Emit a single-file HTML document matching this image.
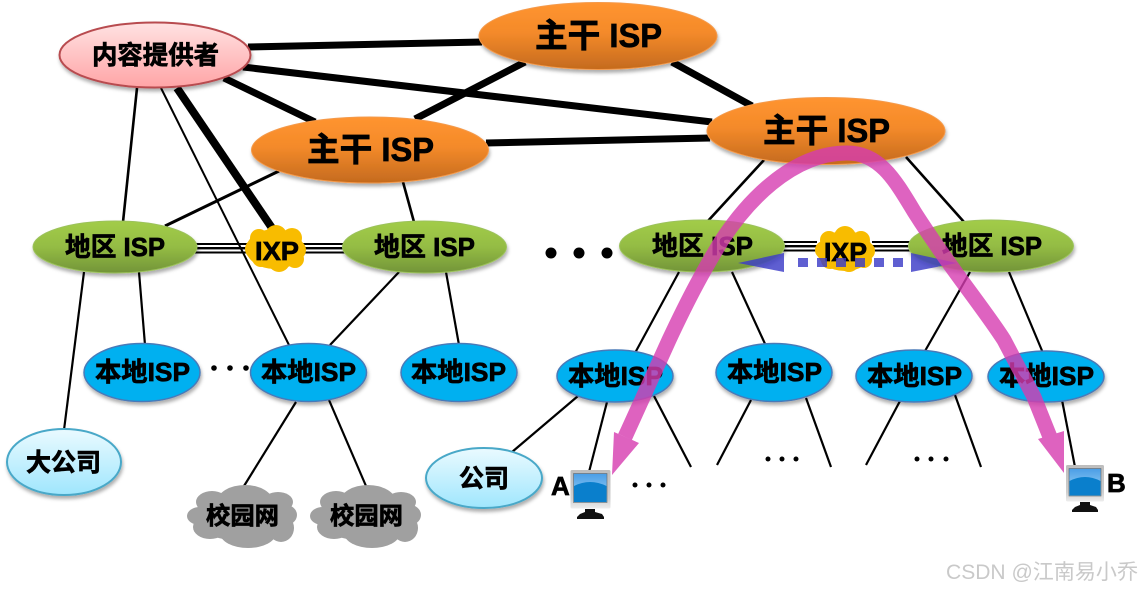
<!DOCTYPE html>
<html><head><meta charset="utf-8">
<style>
html,body{margin:0;padding:0;background:#fff;width:1142px;height:591px;overflow:hidden}
svg{display:block}
.t{font-family:"Liberation Sans","Noto Sans CJK SC",sans-serif;font-weight:700;fill:#000;stroke:#000;stroke-width:.7;text-anchor:start}
</style></head>
<body>
<svg width="1142" height="591" viewBox="0 0 1142 591" xmlns="http://www.w3.org/2000/svg">
<defs>
<linearGradient id="o" x1="0" y1="0" x2="0" y2="1"><stop offset="0" stop-color="#ff9430"/><stop offset=".45" stop-color="#f48a2a"/><stop offset="1" stop-color="#c46a1e"/></linearGradient>
<linearGradient id="g" x1="0" y1="0" x2="0" y2="1"><stop offset="0" stop-color="#a2cc48"/><stop offset=".5" stop-color="#94bc44"/><stop offset="1" stop-color="#729438"/></linearGradient>
<linearGradient id="p" x1="0" y1="0" x2="0" y2="1"><stop offset="0" stop-color="#ffe2e2"/><stop offset="1" stop-color="#ffa4a6"/></linearGradient>
<linearGradient id="c" x1="0" y1="0" x2="0" y2="1"><stop offset="0" stop-color="#eafaff"/><stop offset="1" stop-color="#9fe6fd"/></linearGradient>
<linearGradient id="s" x1="0" y1="0" x2="0" y2="1"><stop offset="0" stop-color="#4a9ee6"/><stop offset="1" stop-color="#a8daf8"/></linearGradient>
<linearGradient id="b" x1="0" y1="0" x2="0" y2="1"><stop offset="0" stop-color="#bdbdbd"/><stop offset=".75" stop-color="#cfcfcf"/><stop offset="1" stop-color="#eeeeee"/></linearGradient>
<filter id="sh" x="-10%" y="-10%" width="120%" height="130%"><feDropShadow dx="1" dy="3" stdDeviation="1.800" flood-color="#000" flood-opacity=".32"/></filter>
</defs>

<!-- thick backbone links -->
<g stroke="#000" stroke-width="7" fill="none">
<line x1="248" y1="47" x2="482" y2="42"/>
<line x1="243" y1="67" x2="712" y2="122"/>
<line x1="224" y1="78" x2="315" y2="122"/>
<line x1="415" y1="119" x2="525" y2="62"/>
<line x1="672" y1="62" x2="752" y2="106"/>
<line x1="486" y1="143" x2="710" y2="138"/>
<line x1="177" y1="88" x2="272" y2="228" stroke-width="8"/>
</g>
<!-- thin links -->
<g stroke="#000" stroke-width="2.600" fill="none">
<line x1="137" y1="88" x2="123" y2="222"/>
<line x1="161" y1="88" x2="289" y2="345" stroke-width="2"/>
<line x1="279" y1="171" x2="165" y2="226" stroke-width="3"/>
<line x1="403" y1="182" x2="414" y2="222"/>
<line x1="84" y1="272" x2="64" y2="430" stroke-width="2.200"/>
<line x1="139" y1="272" x2="145" y2="345" stroke-width="2.200"/>
<line x1="399" y1="272" x2="330" y2="345" stroke-width="2.200"/>
<line x1="446" y1="272" x2="459" y2="345" stroke-width="2.200"/>
<line x1="764" y1="160" x2="707" y2="222"/>
<line x1="906" y1="157" x2="964" y2="222"/>
<g stroke-width="2.200">
<line x1="679" y1="272" x2="635" y2="353"/>
<line x1="732" y1="272" x2="766" y2="346"/>
<line x1="970" y1="272" x2="925" y2="351"/>
<line x1="1009" y1="272" x2="1043" y2="353"/>
<line x1="578" y1="396" x2="512" y2="452"/>
<line x1="607" y1="402" x2="589" y2="472"/>
<line x1="654" y1="396" x2="691" y2="467"/>
<line x1="751" y1="400" x2="717" y2="465"/>
<line x1="806" y1="398" x2="831" y2="467"/>
<line x1="900" y1="401" x2="866" y2="465"/>
<line x1="955" y1="395" x2="981" y2="467"/>
<line x1="1062" y1="400" x2="1075" y2="467"/>
<line x1="296" y1="402" x2="244" y2="486"/>
<line x1="329" y1="400" x2="366" y2="486"/>
</g>
</g>
<!-- triple lines -->
<g fill="#000">
<rect x="195" y="243" width="52" height="2"/><rect x="195" y="247" width="52" height="2.400"/><rect x="195" y="251.500" width="52" height="2"/>
<rect x="303" y="243" width="42" height="2"/><rect x="303" y="247" width="42" height="2.400"/><rect x="303" y="251.500" width="42" height="2"/>
<rect x="783" y="241" width="34" height="2"/><rect x="783" y="245" width="34" height="2.400"/><rect x="783" y="249.500" width="34" height="2"/>
<rect x="872" y="241" width="38" height="2"/><rect x="872" y="245" width="38" height="2.400"/><rect x="872" y="249.500" width="38" height="2"/>
</g>

<!-- ellipses -->
<g filter="url(#sh)">
<ellipse cx="155" cy="55" rx="95.500" ry="32.500" fill="url(#p)" stroke="#b84c50" stroke-width="2"/>
<ellipse cx="598" cy="36" rx="119" ry="33.500" fill="url(#o)" stroke="#f49a4c" stroke-width="1"/>
<ellipse cx="826" cy="131" rx="119" ry="33.500" fill="url(#o)" stroke="#f49a4c" stroke-width="1"/>
<ellipse cx="370" cy="150" rx="118.500" ry="33" fill="url(#o)" stroke="#f49a4c" stroke-width="1"/>
<ellipse cx="115" cy="247" rx="82" ry="26" fill="url(#g)" stroke="#9cc25c" stroke-width="1"/>
<ellipse cx="424.500" cy="247" rx="82" ry="26" fill="url(#g)" stroke="#9cc25c" stroke-width="1"/>
<ellipse cx="702" cy="246" rx="82.500" ry="26" fill="url(#g)" stroke="#9cc25c" stroke-width="1"/>
<ellipse cx="991" cy="246" rx="82.500" ry="26" fill="url(#g)" stroke="#9cc25c" stroke-width="1"/>
<g fill="#00b0f0" stroke="#4a7ab8" stroke-width="1.500">
<ellipse cx="142" cy="372.500" rx="58" ry="29"/>
<ellipse cx="308.500" cy="372.500" rx="58" ry="29"/>
<ellipse cx="459" cy="372.500" rx="58" ry="29"/>
<ellipse cx="615" cy="376" rx="58" ry="26"/>
<ellipse cx="774" cy="372.500" rx="58" ry="29"/>
<ellipse cx="914" cy="376" rx="58" ry="26"/>
<ellipse cx="1046" cy="376.500" rx="58" ry="25.500"/>
</g>
<ellipse cx="64" cy="462" rx="57" ry="33" fill="url(#c)" stroke="#48a8c8" stroke-width="2"/>
<ellipse cx="484" cy="478" rx="58" ry="30" fill="url(#c)" stroke="#48a8c8" stroke-width="2"/>
</g>

<!-- IXP clouds -->
<g fill="#f8bc00">
<ellipse cx="275" cy="249" rx="29" ry="20"/><circle cx="259" cy="238" r="9"/><circle cx="276" cy="236" r="11"/><circle cx="292" cy="238" r="10"/><circle cx="255" cy="249" r="10"/><circle cx="296" cy="250" r="10"/><circle cx="261" cy="258" r="9"/><circle cx="279" cy="261" r="11"/><circle cx="295" cy="259" r="9"/>
<ellipse cx="845" cy="251" rx="28" ry="20"/><circle cx="829" cy="240" r="9"/><circle cx="845" cy="237" r="11"/><circle cx="861" cy="240" r="9"/><circle cx="824" cy="250" r="9"/><circle cx="866" cy="251" r="9"/><circle cx="830" cy="260" r="9"/><circle cx="849" cy="262" r="10"/><circle cx="864" cy="260" r="8"/>
</g>
<!-- grey clouds -->
<g fill="#a0a0a0">
<ellipse cx="242" cy="517" rx="48" ry="24"/><ellipse cx="245" cy="502" rx="28" ry="17"/><ellipse cx="212" cy="502" rx="16" ry="11"/><ellipse cx="278" cy="502" rx="15" ry="10"/><ellipse cx="200" cy="516" rx="13" ry="9"/><ellipse cx="283" cy="515" rx="14" ry="11"/><ellipse cx="210" cy="527" rx="17" ry="12"/><ellipse cx="248" cy="533" rx="28" ry="15"/><ellipse cx="281" cy="528" rx="13" ry="14"/>
<ellipse cx="366" cy="517" rx="48" ry="24"/><ellipse cx="368" cy="502" rx="28" ry="17"/><ellipse cx="336" cy="502" rx="16" ry="11"/><ellipse cx="401" cy="502" rx="15" ry="10"/><ellipse cx="323" cy="516" rx="13" ry="9"/><ellipse cx="407" cy="515" rx="14" ry="11"/><ellipse cx="334" cy="527" rx="17" ry="12"/><ellipse cx="372" cy="533" rx="28" ry="15"/><ellipse cx="405" cy="528" rx="13" ry="14"/>
</g>

<!-- dots -->
<g fill="#000">
<circle cx="551" cy="253" r="5.500"/><circle cx="579" cy="253" r="5.500"/><circle cx="607" cy="253" r="5.500"/>
<circle cx="214" cy="368" r="2.800"/><circle cx="230" cy="368" r="2.800"/><circle cx="246" cy="368" r="2.800"/>
<circle cx="635" cy="485" r="2.500"/><circle cx="649" cy="485" r="2.500"/><circle cx="663" cy="485" r="2.500"/>
<circle cx="768" cy="459" r="2.500"/><circle cx="782" cy="459" r="2.500"/><circle cx="796" cy="459" r="2.500"/>
<circle cx="917" cy="459" r="2.500"/><circle cx="931" cy="459" r="2.500"/><circle cx="946" cy="459" r="2.500"/>
</g>

<!-- computers -->
<g>
<rect x="570.500" y="470" width="40" height="38.500" rx="1.500" fill="url(#b)"/>
<rect x="573.500" y="473.500" width="33.500" height="29" fill="url(#s)" stroke="#666" stroke-width=".6"/>
<path d="M574 486Q590 478 606.500 486V502H574Z" fill="#0a7fcc"/>
<path d="M585 509h10v3l7 2 2 3v2h-27v-2l3-3 5-2Z" fill="#111"/>
</g>
<g>
<rect x="1066" y="465" width="38" height="36.500" rx="1.500" fill="url(#b)"/>
<rect x="1069" y="468.500" width="32" height="27.500" fill="url(#s)" stroke="#666" stroke-width=".6"/>
<path d="M1069.500 481Q1085 473 1100.500 481V495.500H1069.500Z" fill="#0a7fcc"/>
<path d="M1080 502h10v3l6 2 2 3v2h-26v-2l3-3 5-2Z" fill="#111"/>
</g>

<!-- labels -->
<g class="t">
<text x="92" y="64" font-size="25.500" textLength="127" lengthAdjust="spacingAndGlyphs">内容提供者</text>
<text x="535" y="47" font-size="33" textLength="127" lengthAdjust="spacingAndGlyphs">主干 ISP</text>
<text x="763" y="142" font-size="33" textLength="127" lengthAdjust="spacingAndGlyphs">主干 ISP</text>
<text x="307" y="161" font-size="33" textLength="127" lengthAdjust="spacingAndGlyphs">主干 ISP</text>
<text x="65" y="256" font-size="26" textLength="100" lengthAdjust="spacingAndGlyphs">地区 ISP</text>
<text x="374" y="256" font-size="26" textLength="101" lengthAdjust="spacingAndGlyphs">地区 ISP</text>
<text x="652" y="255" font-size="26" textLength="101" lengthAdjust="spacingAndGlyphs">地区 ISP</text>
<text x="942" y="255" font-size="26" textLength="100" lengthAdjust="spacingAndGlyphs">地区 ISP</text>
<text x="255" y="260" font-size="26" textLength="44" lengthAdjust="spacingAndGlyphs">IXP</text>
<text x="824" y="261" font-size="26" textLength="43" lengthAdjust="spacingAndGlyphs">IXP</text>
<text x="95" y="381" font-size="26" textLength="95" lengthAdjust="spacingAndGlyphs">本地ISP</text>
<text x="261" y="381" font-size="26" textLength="95" lengthAdjust="spacingAndGlyphs">本地ISP</text>
<text x="411" y="381" font-size="26" textLength="95" lengthAdjust="spacingAndGlyphs">本地ISP</text>
<text x="568" y="385" font-size="26" textLength="95" lengthAdjust="spacingAndGlyphs">本地ISP</text>
<text x="727" y="381" font-size="26" textLength="95" lengthAdjust="spacingAndGlyphs">本地ISP</text>
<text x="867" y="385" font-size="26" textLength="95" lengthAdjust="spacingAndGlyphs">本地ISP</text>
<text x="999" y="385" font-size="26" textLength="95" lengthAdjust="spacingAndGlyphs">本地ISP</text>
<text x="26" y="471" font-size="25" textLength="75" lengthAdjust="spacingAndGlyphs">大公司</text>
<text x="459" y="487" font-size="25" textLength="50" lengthAdjust="spacingAndGlyphs">公司</text>
<text x="206" y="524" font-size="24" textLength="73" lengthAdjust="spacingAndGlyphs">校园网</text>
<text x="330" y="524" font-size="24" textLength="73" lengthAdjust="spacingAndGlyphs">校园网</text>
<text x="551" y="495" font-size="26">A</text>
<text x="1107" y="492" font-size="26">B</text>
</g>

<!-- blue dashed double arrow -->
<g fill="#3c3cc8" opacity=".82">
<path d="M738 263L784 253V272Z"/>
<path d="M957 263L911 253V272Z"/>
<rect x="798" y="258" width="10" height="9"/><rect x="817" y="258" width="10" height="9"/><rect x="836" y="258" width="10" height="9"/><rect x="855" y="258" width="10" height="9"/><rect x="874" y="258" width="10" height="9"/><rect x="893" y="258" width="10" height="9"/>
</g>

<!-- magenta path -->
<g opacity=".8">
<path d="M625 437L669 340C690 295 705 268 722 240C745 205 790 153 847 153C880 153 895 180 915 213C950 268 985 310 1004 340L1034 397L1052 442" fill="none" stroke="#d63cb0" stroke-width="15"/>
<path d="M612 475L614 432L639 443Z" fill="#d63cb0"/>
<path d="M1064 473L1038 439L1064 431Z" fill="#d63cb0"/>
</g>

<text x="946" y="579" font-family="'Liberation Sans','Noto Sans CJK SC',sans-serif" font-size="21" fill="#c9c9c9" textLength="192" lengthAdjust="spacingAndGlyphs">CSDN @江南易小乔</text>
</svg>
</body></html>
